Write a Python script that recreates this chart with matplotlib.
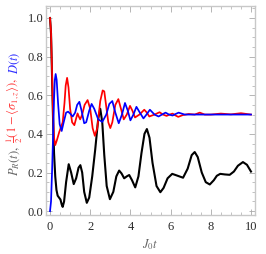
import matplotlib
matplotlib.use("Agg")
import matplotlib.pyplot as plt
from matplotlib.ticker import MultipleLocator

plt.rcParams['font.family'] = ['Liberation Serif', 'DejaVu Serif']
plt.rcParams['mathtext.fontset'] = 'stix'

# P_R(t), black
t_black = [0, 0.05, 0.1, 0.15, 0.2, 0.26, 0.32, 0.38, 0.45, 0.52, 0.58, 0.63, 0.7, 0.8,
           0.93, 1.05, 1.18, 1.3, 1.42, 1.51, 1.6, 1.7, 1.83, 1.95, 2.1, 2.25, 2.4, 2.5,
           2.6, 2.7, 2.82, 2.98, 3.15, 3.3, 3.44, 3.56, 3.69, 3.82, 3.94, 4.08, 4.24, 4.4,
           4.55, 4.7, 4.82, 4.95, 5.1, 5.3, 5.49, 5.65, 5.85, 6.08, 6.3, 6.62, 6.85, 7.05,
           7.2, 7.35, 7.55, 7.75, 7.95, 8.15, 8.3, 8.47, 8.7, 8.94, 9.15, 9.35, 9.6, 9.8, 10]
p_black = [1.0, 0.92, 0.7, 0.48, 0.3, 0.18, 0.11, 0.08, 0.07, 0.06, 0.035, 0.022, 0.05, 0.15,
           0.243, 0.2, 0.14, 0.17, 0.225, 0.238, 0.2, 0.1, 0.043, 0.07, 0.18, 0.32, 0.48, 0.53,
           0.46, 0.29, 0.13, 0.062, 0.1, 0.18, 0.21, 0.195, 0.17, 0.18, 0.187, 0.16, 0.123, 0.18,
           0.3, 0.4, 0.425, 0.38, 0.25, 0.13, 0.098, 0.12, 0.17, 0.193, 0.185, 0.173, 0.22, 0.29,
           0.306, 0.28, 0.2, 0.15, 0.138, 0.16, 0.183, 0.193, 0.19, 0.188, 0.205, 0.235, 0.254, 0.24, 0.205]

# (1 - <sigma_1z>)/2, red
t_red = [0, 0.05, 0.1, 0.15, 0.2, 0.26, 0.35, 0.46, 0.63, 0.72, 0.78, 0.85, 0.92, 1.0, 1.1,
         1.21, 1.3, 1.37, 1.43, 1.5, 1.6, 1.72, 1.87, 2.0, 2.12, 2.23, 2.35, 2.5, 2.62, 2.7,
         2.8, 2.9, 3.0, 3.1, 3.25, 3.4, 3.53, 3.67, 3.82, 3.98, 4.1, 4.23, 4.45, 4.69, 4.82,
         4.94, 5.2, 5.45, 5.62, 5.8, 5.95, 6.1, 6.25, 6.38, 6.6, 6.9, 7.2, 7.45, 7.7, 8.0,
         8.5, 9.0, 9.5, 10]
s_red = [1.0, 0.93, 0.72, 0.5, 0.38, 0.342, 0.37, 0.41, 0.46, 0.56, 0.65, 0.69, 0.64, 0.53, 0.46,
         0.445, 0.48, 0.506, 0.49, 0.475, 0.5, 0.55, 0.575, 0.53, 0.43, 0.39, 0.43, 0.57, 0.625, 0.62,
         0.54, 0.46, 0.43, 0.46, 0.55, 0.58, 0.53, 0.475, 0.5, 0.545, 0.52, 0.485, 0.5, 0.525, 0.51,
         0.49, 0.5, 0.512, 0.5, 0.493, 0.5, 0.505, 0.495, 0.488, 0.497, 0.503, 0.5, 0.51, 0.5, 0.5,
         0.505, 0.501, 0.507, 0.5]

# D(t), blue
t_blue = [0, 0.05, 0.1, 0.15, 0.2, 0.24, 0.28, 0.33, 0.4, 0.48, 0.58, 0.68, 0.8, 0.9, 1.0,
          1.13, 1.25, 1.35, 1.46, 1.57, 1.7, 1.8, 1.95, 2.07, 2.2, 2.4, 2.6, 2.8, 2.95, 3.1,
          3.25, 3.42, 3.58, 3.73, 3.87, 4.0, 4.15, 4.3, 4.47, 4.65, 4.8, 4.97, 5.2, 5.4, 5.57,
          5.75, 5.92, 6.1, 6.25, 6.4, 6.7, 7.0, 8.0, 10]
d_blue = [0, 0.05, 0.2, 0.38, 0.58, 0.68, 0.71, 0.68, 0.56, 0.45, 0.415, 0.46, 0.51, 0.515, 0.505,
          0.49, 0.51, 0.55, 0.566, 0.52, 0.455, 0.46, 0.52, 0.555, 0.53, 0.475, 0.462, 0.5, 0.555, 0.57,
          0.51, 0.455, 0.5, 0.56, 0.52, 0.47, 0.5, 0.54, 0.51, 0.48, 0.5, 0.525, 0.5, 0.49, 0.5,
          0.51, 0.5, 0.495, 0.503, 0.51, 0.5, 0.5, 0.5, 0.5]

x_ticks = [0, 2, 4, 6, 8, 10]
y_ticks = [0.0, 0.2, 0.4, 0.6, 0.8, 1.0]

fig = plt.figure(figsize=(2.66, 2.54), dpi=100)
ax = fig.add_axes([46 / 266, 1 - 215 / 254, 209 / 266, 209 / 254])

ax.plot(t_black, p_black, color='black', lw=1.5)
ax.plot(t_red, s_red, color='red', lw=1.25)
ax.plot(t_blue, d_blue, color='blue', lw=1.25)

ax.set_xlim(-0.2, 10.2)
ax.set_ylim(-0.02, 1.062)
ax.set_xticks(x_ticks)
ax.set_xticklabels([str(v) for v in x_ticks])
ax.set_yticks(y_ticks)
ax.set_yticklabels(['%.1f' % v for v in y_ticks])
ax.xaxis.set_minor_locator(MultipleLocator(0.5))
ax.yaxis.set_minor_locator(MultipleLocator(0.05))

for s in ax.spines.values():
    s.set_color('#c8c8c8')
    s.set_linewidth(1.0)
ax.tick_params(which='both', direction='in', top=True, right=True, color='#aaaaaa',
               labelsize=9, labelcolor='#2a2a2a')
ax.tick_params(which='major', length=4, width=0.6)
ax.tick_params(which='minor', length=2.5, width=0.5)
ax.tick_params(axis='y', pad=2)
ax.tick_params(axis='x', pad=4)

ax.set_xlabel('$J_0 t$', color='#666666', fontsize=9, labelpad=3)

# coloured y label built from pieces stacked upward
pieces = [(r'$P_R(t),$', '#666666'),
          (r'$\frac{1}{2}(1-\langle\sigma_{1,z}\rangle),$', '#ff4040'),
          (r'$D(t)$', '#3030ff')]
renderer = fig.canvas.get_renderer()
ypos = 176
for txt, col in pieces:
    tt = fig.text(17.5 / 266, 1 - ypos / 254, txt, color=col, fontsize=9, rotation=90,
                  rotation_mode='anchor', ha='left', va='baseline')
    bb = tt.get_window_extent(renderer)
    ypos -= bb.height + 3.5

fig.savefig('out.png', dpi=100)
